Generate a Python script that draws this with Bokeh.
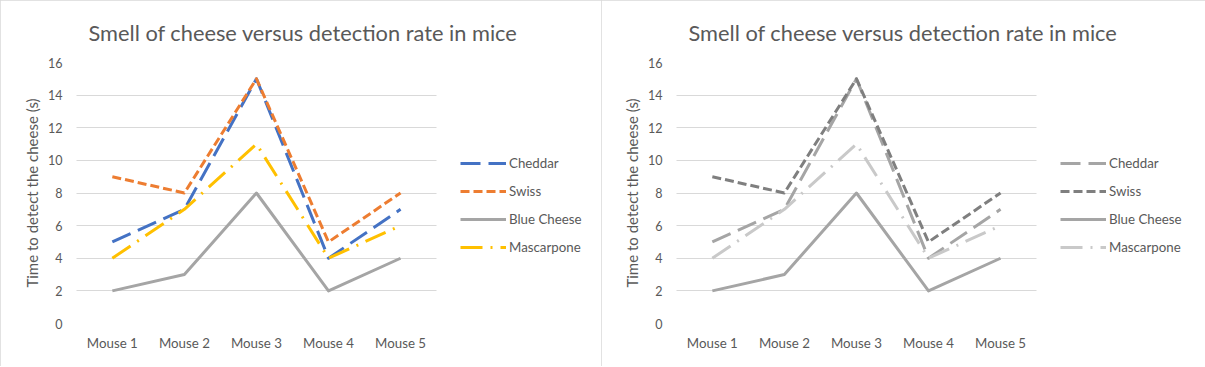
from bokeh.plotting import figure
from bokeh.layouts import row
from bokeh.models import Legend, LegendItem, Range1d, FactorRange, FixedTicker, Title
from bokeh.embed import file_html
from bokeh.resources import INLINE

mice = ["Mouse 1", "Mouse 2", "Mouse 3", "Mouse 4", "Mouse 5"]
cheddar = [5, 7, 15, 4, 7]
swiss = [9, 8, 15, 5, 8]
blue_cheese = [2, 3, 8, 2, 4]
mascarpone = [4, 7, 11, 4, 6]
series_names = ["Cheddar", "Swiss", "Blue Cheese", "Mascarpone"]
series_values = [cheddar, swiss, blue_cheese, mascarpone]
y_ticks = [0, 2, 4, 6, 8, 10, 12, 14, 16]
legend_slots = [" ", "  "]   # empty room on the x range that holds the legend

title_text = "Smell of cheese versus detection rate in mice"
y_title = "Time to detect the cheese (s)"

FONT = "Lato"
TXT = "#595959"

color_sets = [
    ["#4472C4", "#ED7D31", "#A5A5A5", "#FFC000"],
    ["#A5A5A5", "#7F7F7F", "#A5A5A5", "#C9C9C9"],
]
dashes = ["20 8", "9 4", "solid", "22 8 2 8"]

PAD = 0.15
FW = 526


def make_panel(colors, left, width):
    xr = FactorRange(*(mice + legend_slots), range_padding=PAD,
                     range_padding_units="absolute")
    p = figure(x_range=xr, y_range=Range1d(0, 16),
               frame_width=FW, frame_height=261, output_backend="svg",
               toolbar_location=None, min_border_left=left,
               min_border_right=width - left - FW, min_border_top=62,
               min_border_bottom=43)
    p.outline_line_color = None
    p.background_fill_color = "white"
    p.border_fill_color = "white"
    p.xgrid.grid_line_color = None
    p.ygrid.grid_line_color = "#D9D9D9"
    p.ygrid.grid_line_width = 1
    g = p.ygrid[0]
    if "cross_bounds" in g.properties():
        g.cross_bounds = (0, len(mice))
    p.yaxis.ticker = FixedTicker(ticks=y_ticks)
    for ax in (p.xaxis[0], p.yaxis[0]):
        ax.axis_line_color = None
        ax.major_tick_line_color = None
        ax.minor_tick_line_color = None
        ax.major_tick_out = 0
        ax.major_tick_in = 0
        ax.minor_tick_out = 0
        ax.major_label_text_font = FONT
        ax.major_label_text_color = TXT
    p.xaxis.major_label_text_font_size = "13.3px"
    p.yaxis.major_label_text_font_size = "12.5px"
    p.xaxis.major_label_standoff = 11
    p.yaxis.major_label_standoff = 3
    p.yaxis.axis_label = y_title
    p.yaxis.axis_label_text_font = FONT
    p.yaxis.axis_label_text_font_size = "15px"
    p.yaxis.axis_label_text_font_style = "normal"
    p.yaxis.axis_label_text_color = TXT
    p.yaxis.axis_label_standoff = 4

    items = []
    for name, vals, col, dash in zip(series_names, series_values, colors, dashes):
        r = p.line(mice, vals, line_color=col, line_width=3, line_dash=dash,
                   line_join="round")
        items.append(LegendItem(label=name, renderers=[r]))

    leg = Legend(items=items, location=(395, 68))
    leg.padding = 0
    leg.margin = 0
    leg.spacing = 12
    leg.glyph_width = 46
    leg.glyph_height = 16
    leg.label_height = 16
    leg.label_standoff = 3
    leg.label_text_font = FONT
    leg.label_text_font_size = "13.3px"
    leg.label_text_color = TXT
    leg.border_line_alpha = 0
    leg.background_fill_alpha = 0
    p.add_layout(leg, "center")

    t = Title(text=title_text, align="left", offset=23, text_font=FONT,
              text_font_size="21.8px", text_font_style="normal",
              text_color=TXT, standoff=30, vertical_align="top")
    p.add_layout(t, "above")
    p.styles = {"outline": "1px solid #D9D9D9", "outline-offset": "-1px"}
    return p


p1 = make_panel(color_sets[0], 65, 601)
p2 = make_panel(color_sets[1], 64, 604)
p = row(p1, p2)

open("out.html", "w").write(file_html(p, INLINE))
